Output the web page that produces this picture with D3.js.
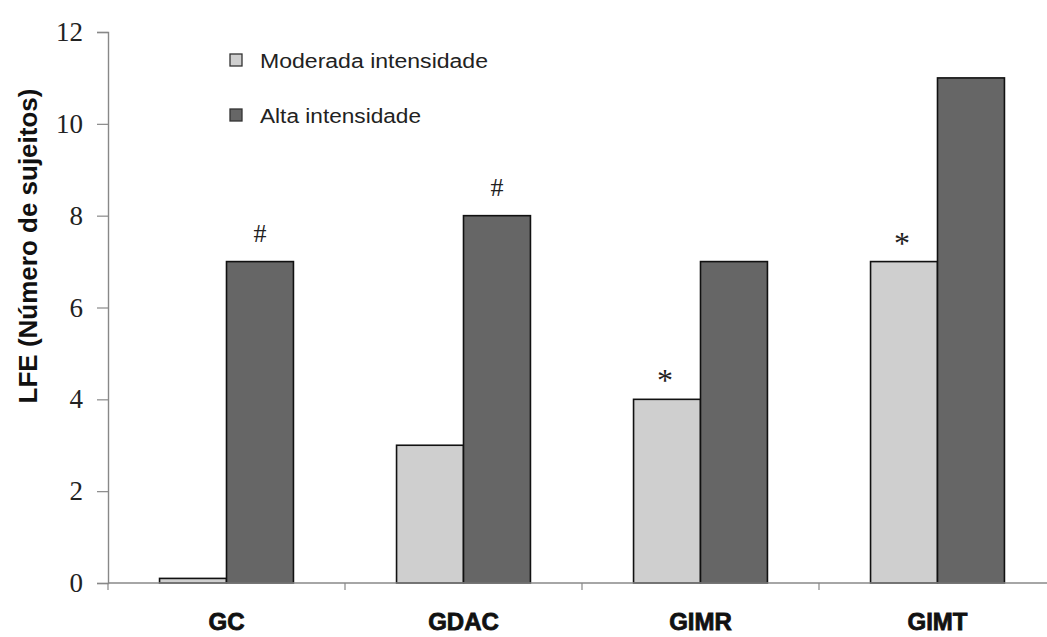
<!DOCTYPE html>
<html>
<head>
<meta charset="utf-8">
<script src="https://cdn.jsdelivr.net/npm/d3@7"></script>
<style>
  html, body { margin: 0; padding: 0; background: #fff; }
  svg { display: block; }
</style>
</head>
<body>
<svg id="chart" width="1047" height="637"></svg>
<script>
// Groups and series
const categories = ["GC", "GDAC", "GIMR", "GIMT"];
const seriesNames = ["Moderada intensidade", "Alta intensidade"];
const moderada = [0.1, 3, 4, 7];
const alta = [7, 8, 7, 11];
// Significance marks drawn above each bar ("" = none)
const marksModerada = ["", "", "*", "*"];
const marksAlta = ["#", "#", "", ""];
const yTicks = [0, 2, 4, 6, 8, 10, 12];

const colors = ["#cfcfcf", "#666666"];
const svg = d3.select("#chart");

const margin = { left: 108, right: -9, top: 32, bottom: 54 };
const W = 1047, H = 637;

const x0 = d3.scaleBand().domain(categories)
  .range([margin.left, W - margin.right]).paddingInner(0).paddingOuter(0);
const x1 = d3.scaleBand().domain([0, 1])
  .range([0, x0.bandwidth()]).paddingInner(0).paddingOuter(0.77);
const y = d3.scaleLinear().domain([0, 12]).range([H - margin.bottom, margin.top]);

const data = categories.map((c, i) => ({
  cat: c,
  vals: [
    { s: 0, v: moderada[i], mark: marksModerada[i] },
    { s: 1, v: alta[i], mark: marksAlta[i] }
  ]
}));

// Bars
const groups = svg.append("g").selectAll("g").data(data).join("g")
  .attr("transform", d => `translate(${x0(d.cat)},0)`);

groups.selectAll("rect").data(d => d.vals).join("rect")
  .attr("x", d => x1(d.s))
  .attr("y", d => y(d.v))
  .attr("width", x1.bandwidth())
  .attr("height", d => y(0) - y(d.v))
  .attr("fill", d => colors[d.s])
  .attr("stroke", "#111")
  .attr("stroke-width", 1.6);

groups.selectAll("text.mark").data(d => d.vals.filter(v => v.mark)).join("text")
  .attr("class", "mark")
  .attr("x", d => x1(d.s) + x1.bandwidth() / 2 + (d.mark === "#" ? 0 : -2))
  .attr("y", d => y(d.v) - (d.mark === "#" ? 20 : 8))
  .attr("text-anchor", "middle")
  .attr("font-family", "Liberation Serif, Times New Roman, serif")
  .attr("font-size", d => d.mark === "#" ? 26 : 32)
  .attr("fill", "#222")
  .text(d => d.mark);

// Y axis
const yAxis = d3.axisLeft(y).tickValues(yTicks).tickSize(11).tickPadding(14)
  .tickFormat(d3.format("d"));
const gy = svg.append("g").attr("transform", `translate(${margin.left},0)`).call(yAxis);
gy.select(".domain").attr("stroke", "#888").attr("stroke-width", 1.4);
gy.selectAll(".tick line").attr("stroke", "#888").attr("stroke-width", 1.2);
gy.selectAll(".tick text")
  .attr("font-family", "Liberation Serif, Times New Roman, serif")
  .attr("font-size", 27).attr("fill", "#222");

// X axis
const gx = svg.append("g").attr("transform", `translate(0,${y(0)})`);
gx.append("line")
  .attr("x1", margin.left).attr("x2", W)
  .attr("y1", 0).attr("y2", 0)
  .attr("stroke", "#888").attr("stroke-width", 1.4);
gx.selectAll("line.tick").data(categories).join("line")
  .attr("class", "tick")
  .attr("x1", d => x0(d)).attr("x2", d => x0(d))
  .attr("y1", 0).attr("y2", 7)
  .attr("stroke", "#888").attr("stroke-width", 1.2);
gx.selectAll("text").data(categories).join("text")
  .attr("x", d => x0(d) + x0.bandwidth() / 2)
  .attr("y", 47)
  .attr("text-anchor", "middle")
  .attr("font-family", "Liberation Sans, Arial, sans-serif")
  .attr("font-weight", "bold")
  .attr("font-size", 24)
  .attr("fill", "#111")
  .attr("stroke", "#111").attr("stroke-width", 0.8)
  .text(d => d);

// Y axis title
svg.append("text")
  .attr("transform", "translate(37,246) rotate(-90)")
  .attr("text-anchor", "middle")
  .attr("font-family", "Liberation Sans, Arial, sans-serif")
  .attr("font-weight", "bold")
  .attr("font-size", 26)
  .attr("fill", "#111")
  .text("LFE (Número de sujeitos)");

// Legend
const legend = svg.append("g").attr("transform", "translate(230,54)");
const li = legend.selectAll("g").data(seriesNames).join("g")
  .attr("transform", (d, i) => `translate(0,${i * 55})`);
li.append("rect")
  .attr("width", 12).attr("height", 12)
  .attr("fill", (d, i) => colors[i])
  .attr("stroke", "#333").attr("stroke-width", 1.3);
li.append("text")
  .attr("x", 30).attr("y", 14)
  .attr("font-family", "Liberation Sans, Arial, sans-serif")
  .attr("font-size", 20)
  .attr("textLength", (d, i) => i === 0 ? 228 : 161)
  .attr("lengthAdjust", "spacingAndGlyphs")
  .attr("fill", "#222")
  .text(d => d);
</script>
</body>
</html>
